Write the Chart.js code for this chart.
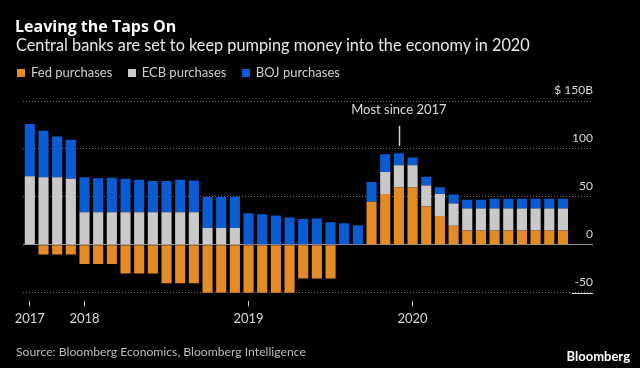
<!DOCTYPE html>
<html>
<head>
<meta charset="utf-8">
<script src="https://cdn.jsdelivr.net/npm/chart.js@4"></script>
<style>
  html, body { margin: 0; padding: 0; background: #000; }
  body { width: 640px; height: 368px; position: relative; overflow: hidden;
         font-family: Lato, "Noto Sans", sans-serif; color: #fff; }
  #title { position: absolute; left: 15px; top: 14.5px; font-family: "Open Sans", Lato, sans-serif;
           font-size: 16px; font-weight: bold; }
  #subtitle { position: absolute; left: 16px; top: 35px; font-size: 16.3px; color: #e8e8e8; }
  #legend { position: absolute; left: 16px; top: 64px; font-size: 13px; color: #d0d0d0; }
  #legend .item { margin-right: 11px; }
  #legend i { display: inline-block; width: 8px; height: 8px; margin: 0 6px 0 1px; }
  #source { position: absolute; left: 16px; top: 344px; font-size: 12.2px; color: #bdbdbd; }
  #logo { position: absolute; right: 10px; top: 348px; font-size: 13px; font-weight: bold; }
  #wrap { position: absolute; left: 0; top: 0; width: 640px; height: 368px; }
</style>
</head>
<body>
<div id="wrap"><canvas id="qeChart"></canvas></div>
<div id="title">Leaving the Taps On</div>
<div id="subtitle">Central banks are set to keep pumping money into the economy in 2020</div>
<div id="legend">
  <span class="item"><i style="background:#e38b27"></i>Fed purchases</span>
  <span class="item"><i style="background:#c9c9c9"></i>ECB purchases</span>
  <span class="item"><i style="background:#0b5bd3"></i>BOJ purchases</span>
</div>
<div id="source">Source: Bloomberg Economics, Bloomberg Intelligence</div>
<div id="logo">Bloomberg</div>

<script>
// 月份 (2017年9月 ~ 2020年12月)
const months = [
    'Sep 2017', 'Oct 2017', 'Nov 2017', 'Dec 2017',
    'Jan 2018', 'Feb 2018', 'Mar 2018', 'Apr 2018', 'May 2018', 'Jun 2018',
    'Jul 2018', 'Aug 2018', 'Sep 2018', 'Oct 2018', 'Nov 2018', 'Dec 2018',
    'Jan 2019', 'Feb 2019', 'Mar 2019', 'Apr 2019', 'May 2019', 'Jun 2019',
    'Jul 2019', 'Aug 2019', 'Sep 2019', 'Oct 2019', 'Nov 2019', 'Dec 2019',
    'Jan 2020', 'Feb 2020', 'Mar 2020', 'Apr 2020', 'May 2020', 'Jun 2020',
    'Jul 2020', 'Aug 2020', 'Sep 2020', 'Oct 2020', 'Nov 2020', 'Dec 2020'
];

// 各央行每月購債 (十億美元)
const fedPurchases = [
    0, -10, -10, -10,
    -20, -20, -20, -30, -30, -30, -40, -40, -40, -50, -50, -50,
    -50, -50, -50, -50, -35, -35, -35, 0, 0, 45, 53, 60,
    60, 40, 30, 20, 15, 15, 15, 15, 15, 15, 15, 15
];
const ecbPurchases = [
    71.5, 70.5, 70.5, 69,
    34, 34, 34, 34, 34, 34, 34, 34, 34, 17.5, 17.5, 17.5,
    0, 0, 0, 0, 0, 0, 0, 0, 0, 0, 23, 23,
    23, 22, 23, 23, 23, 23, 23, 23, 23, 23, 23, 23
];
const bojPurchases = [
    54.5, 48.5, 42.5, 40.5,
    36.5, 35.5, 36, 35, 34, 32.5, 32.5, 34, 33, 32.5, 32.5, 32.5,
    33, 32, 30.5, 28.5, 27, 27.5, 23.5, 22.5, 20.5, 20.5, 18.5, 12.5,
    8, 9, 7, 9.5, 9, 9, 10, 10, 10, 10, 10, 10
];

// 座標軸刻度
const yearTicks = [0, 4, 16, 28];
const yearLabels = ['2017', '2018', '2019', '2020'];
const valueTicks = [-50, 0, 50, 100, 150];

const peakIndex = 27;

const toPoints = arr => arr.map((v, i) => ({ x: i, y: v }));

// 註解: 最高點標示
const notePlugin = {
    id: 'note',
    afterDatasetsDraw(chart) {
        const { ctx, scales: { x, y }, chartArea } = chart;
        const px = x.getPixelForValue(peakIndex);
        ctx.save();
        ctx.fillStyle = '#dcdcdc';
        ctx.font = '13px Lato, "Noto Sans", sans-serif';
        ctx.textAlign = 'center';
        ctx.textBaseline = 'middle';
        ctx.fillText('Most since 2017', px, y.getPixelForValue(141));
        ctx.strokeStyle = '#cfcfcf';
        ctx.lineWidth = 1.5;
        ctx.beginPath();
        ctx.moveTo(Math.round(px) + 0.5, y.getPixelForValue(124));
        ctx.lineTo(Math.round(px) + 0.5, y.getPixelForValue(103));
        ctx.stroke();
        // -50 刻度旁的短線
        const py = Math.round(y.getPixelForValue(-50)) + 0.5;
        ctx.lineWidth = 1;
        ctx.strokeStyle = '#d8d8d8';
        ctx.beginPath();
        ctx.moveTo(chartArea.right - 21, py);
        ctx.lineTo(chartArea.right, py);
        ctx.stroke();
        ctx.restore();
    }
};

new Chart(document.getElementById('qeChart'), {
    type: 'bar',
    data: {
        datasets: [
            { label: 'Fed purchases', data: toPoints(fedPurchases), backgroundColor: '#e38b27' },
            { label: 'ECB purchases', data: toPoints(ecbPurchases), backgroundColor: '#c9c9c9' },
            { label: 'BOJ purchases', data: toPoints(bojPurchases), backgroundColor: '#0b5bd3' }
        ]
    },
    options: {
        responsive: true,
        maintainAspectRatio: false,
        animation: false,
        layout: { padding: { top: 101, left: 23, right: 47, bottom: 36 } },
        datasets: { bar: { categoryPercentage: 1, barPercentage: 0.74, borderWidth: 0 } },
        plugins: {
            legend: { display: false },
            tooltip: { callbacks: { title: items => months[items[0].parsed.x] } }
        },
        scales: {
            x: {
                type: 'linear',
                stacked: true,
                offset: false,
                min: -0.5,
                max: 41.2,
                afterBuildTicks: scale => { scale.ticks = yearTicks.map(v => ({ value: v })); },
                grid: { offset: false, drawOnChartArea: false, drawTicks: true, tickLength: 5, tickColor: '#cfcfcf', color: '#cfcfcf' },
                border: { display: false },
                ticks: {
                    autoSkip: false,
                    maxRotation: 0,
                    padding: 5,
                    color: '#d6d6d6',
                    font: { family: 'Lato, "Noto Sans", sans-serif', size: 13 },
                    callback: v => yearLabels[yearTicks.indexOf(v)]
                }
            },
            y: {
                position: 'right',
                stacked: true,
                min: -59,
                max: 150,
                afterBuildTicks: scale => { scale.ticks = valueTicks.map(v => ({ value: v })); },
                grid: {
                    drawTicks: false,
                    lineWidth: 1,
                    color: ctx => ctx.tick && ctx.tick.value === 0 ? '#8f8f8f' : '#707070'
                },
                border: {
                    display: false,
                    dash: ctx => ctx.tick && ctx.tick.value === 0 ? [] : [1, 2]
                },
                ticks: {
                    mirror: true,
                    padding: 0,
                    labelOffset: -11,
                    color: '#d6d6d6',
                    font: { family: 'Lato, "Noto Sans", sans-serif', size: 12 },
                    callback: v => v === 150 ? '$ 150B' : v
                }
            }
        }
    },
    plugins: [notePlugin]
});
</script>
</body>
</html>
